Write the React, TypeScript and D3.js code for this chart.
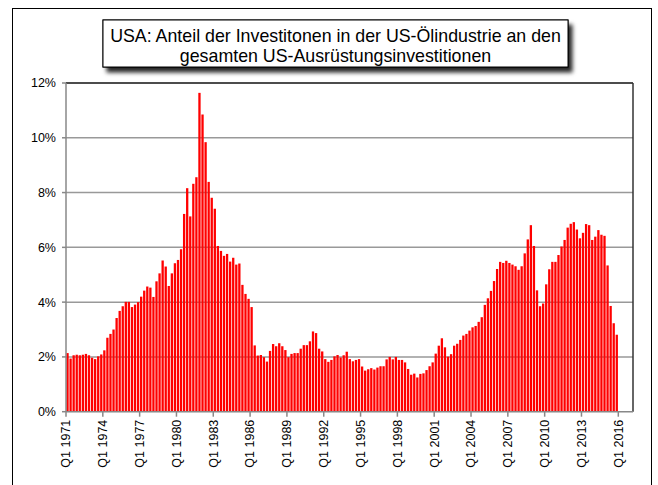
import React from "react";
import * as d3 from "d3";

// Quarterly values, Q1 1971 .. Q4 2015 (share in %)
const quarterValues: number[] = [
  2.14, 1.94, 2.06, 2.08, 2.06, 2.08, 2.11, 2.06, 1.97, 1.92, 2.02, 2.09,
  2.24, 2.7, 2.84, 3.0, 3.42, 3.68, 3.85, 4.01, 4.01, 3.82, 3.91, 4.0,
  4.2, 4.42, 4.57, 4.53, 4.19, 4.76, 5.05, 5.52, 5.3, 4.59, 5.05, 5.42,
  5.54, 5.93, 7.22, 8.16, 7.13, 8.32, 8.56, 11.64, 10.85, 9.84, 8.39, 7.81,
  7.41, 6.05, 5.87, 5.69, 5.76, 5.48, 5.62, 5.37, 5.41, 4.63, 4.3, 4.12,
  3.82, 2.42, 2.05, 2.07, 1.99, 1.83, 2.22, 2.47, 2.39, 2.5, 2.39, 2.25,
  1.99, 2.11, 2.14, 2.14, 2.3, 2.43, 2.43, 2.57, 2.93, 2.87, 2.3, 2.2,
  1.92, 1.82, 1.89, 2.02, 2.07, 1.98, 2.06, 2.19, 1.92, 1.84, 1.89, 1.92,
  1.65, 1.5, 1.55, 1.59, 1.54, 1.61, 1.66, 1.66, 1.91, 2.0, 1.91, 2.0,
  1.89, 1.89, 1.8, 1.56, 1.35, 1.39, 1.25, 1.38, 1.4, 1.52, 1.66, 1.8,
  2.12, 2.41, 2.68, 2.35, 2.01, 2.1, 2.41, 2.48, 2.62, 2.78, 2.84, 2.96,
  3.08, 3.13, 3.28, 3.45, 3.9, 4.14, 4.41, 4.77, 5.21, 5.47, 5.43, 5.51,
  5.43, 5.37, 5.31, 5.18, 5.31, 5.78, 6.29, 6.81, 6.05, 4.43, 3.85, 3.95,
  4.65, 5.2, 5.47, 5.47, 5.72, 6.03, 6.27, 6.72, 6.86, 6.92, 6.65, 6.33,
  6.53, 6.85, 6.81, 6.27, 6.39, 6.63, 6.46, 6.42, 5.34, 3.86, 3.23, 2.81,
];

const xTickLabels: string[] = [
  "Q1 1971", "Q1 1974", "Q1 1977", "Q1 1980", "Q1 1983", "Q1 1986",
  "Q1 1989", "Q1 1992", "Q1 1995", "Q1 1998", "Q1 2001", "Q1 2004",
  "Q1 2007", "Q1 2010", "Q1 2013", "Q1 2016",
];
const xTickEvery = 12; // quarters between labelled ticks

const yTicks: number[] = [0, 2, 4, 6, 8, 10, 12];

const titleLines: string[] = [
  "USA: Anteil der Investitonen in der US-Ölindustrie an den",
  "gesamten US-Ausrüstungsinvestitionen",
];

const W = 658;
const H = 485;
const plotLeft = 66;
const plotTop = 83;
const plotRight = 633;
const plotBottom = 411.7;
const barsRight = 618.3;
const FONT = "'Liberation Sans', Arial, sans-serif";

export default function App() {
  const n = quarterValues.length;
  const x = d3
    .scaleBand<number>()
    .domain(d3.range(n))
    .range([plotLeft, barsRight])
    .paddingInner(0.25)
    .paddingOuter(0.12);
  const xb = d3.scaleLinear().domain([0, n]).range([plotLeft, barsRight]);
  const y = d3.scaleLinear().domain([0, 12]).range([plotBottom, plotTop]);

  return (
    <svg
      width={W}
      height={H}
      style={{ position: "absolute", left: 0, top: 0, display: "block", background: "#fff" }}
      fontFamily={FONT}
    >
      <defs>
        <filter id="shadow" x="-10%" y="-30%" width="125%" height="170%">
          <feDropShadow dx="4" dy="5" stdDeviation="2" floodColor="#000" floodOpacity="0.85" />
        </filter>
      </defs>
      <rect x={0} y={0} width={W} height={H} fill="#fff" />
      {/* outer frame */}
      <rect x={12.5} y={8.5} width={639} height={490} fill="none" stroke="#000" strokeWidth={1} />

      {/* grid */}
      {yTicks
        .filter((t) => t > 0 && t < 12)
        .map((t) => (
          <line
            key={"g" + t}
            x1={plotLeft}
            x2={plotRight}
            y1={y(t)}
            y2={y(t)}
            stroke="#999"
            strokeWidth={1.5}
          />
        ))}

      {/* bars */}
      {quarterValues.map((v, i) => (
        <rect
          key={i}
          x={x(i)}
          y={y(v)}
          width={x.bandwidth()}
          height={plotBottom - y(v)}
          fill="#ff0000"
        />
      ))}

      {/* plot frame */}
      <line x1={plotLeft} x2={plotRight} y1={plotTop} y2={plotTop} stroke="#111" strokeWidth={1.5} />
      <line x1={plotRight} x2={plotRight} y1={plotTop} y2={plotBottom} stroke="#333" strokeWidth={1.5} />
      <line x1={plotLeft} x2={plotRight} y1={plotBottom} y2={plotBottom} stroke="#888" strokeWidth={1.5} />
      <line x1={plotLeft} x2={plotLeft} y1={plotTop} y2={plotBottom} stroke="#888" strokeWidth={1.5} />

      {/* y ticks & labels */}
      {yTicks.map((t) => (
        <g key={"y" + t}>
          <line x1={plotLeft - 4} x2={plotLeft} y1={y(t)} y2={y(t)} stroke="#888" strokeWidth={1.5} />
          <text
            x={plotLeft - 10}
            y={y(t)}
            dy="0.35em"
            textAnchor="end"
            fontSize={12.5}
            fill="#000"
          >
            {t + "%"}
          </text>
        </g>
      ))}

      {/* x ticks & labels */}
      {xTickLabels.map((lab, k) => {
        const px = xb(k * xTickEvery);
        return (
          <g key={"x" + k}>
            <line x1={px} x2={px} y1={plotBottom} y2={plotBottom + 5} stroke="#888" strokeWidth={1.5} />
            <text
              transform={`translate(${px},${plotBottom + 8}) rotate(-90)`}
              textAnchor="end"
              dy="0.35em"
              fontSize={12.5}
              fill="#000"
            >
              {lab}
            </text>
          </g>
        );
      })}

      {/* title box */}
      <rect x={103} y={20} width={465} height={47} fill="#fff" stroke="#000" strokeWidth={1} filter="url(#shadow)" />
      <rect x={103} y={20} width={465} height={47} fill="#fff" stroke="#000" strokeWidth={1} />
      {titleLines.map((l, i) => (
        <text key={"t" + i} x={335.5} y={42 + i * 20} textAnchor="middle" fontSize={17.8} fill="#000">
          {l}
        </text>
      ))}
    </svg>
  );
}
